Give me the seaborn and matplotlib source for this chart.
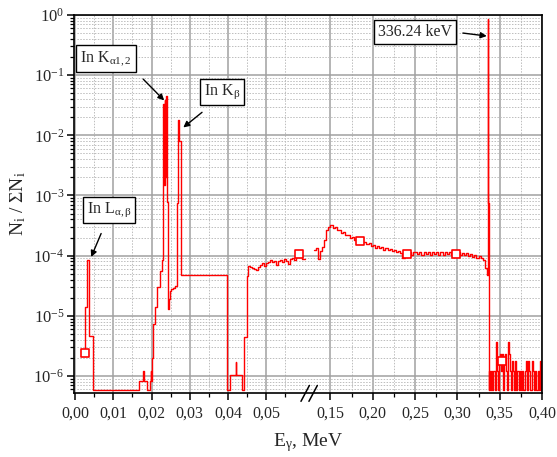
import numpy as np
import pandas as pd
import matplotlib
matplotlib.use("Agg")
import matplotlib.pyplot as plt
from matplotlib.ticker import FixedLocator, FuncFormatter, LogLocator, LogFormatterMathtext, NullFormatter
import seaborn as sns

# ---------------- data (E in MeV, N_i / sum N_i) ----------------
FLOOR = 5.85e-7

# low-energy part: In L, In K-alpha, In K-beta lines
left_x = [0.0026, 0.0027, 0.0031, 0.0035, 0.0037, 0.0046, 0.0166, 0.0178, 0.0179,
          0.0188, 0.0196, 0.0198, 0.0199, 0.0202, 0.0205, 0.0209, 0.0215, 0.0222,
          0.0227, 0.0229, 0.0231, 0.0233, 0.0234, 0.0236, 0.0237, 0.0240, 0.0243,
          0.0245, 0.0247, 0.0250, 0.0257, 0.0262, 0.0266, 0.0270, 0.0273, 0.0277,
          0.0397, 0.0406, 0.0420, 0.0421, 0.0436, 0.0443, 0.0449]
left_y = [2.4e-6, 1.38e-5, 8.3e-5, 5.6e-5, 4.6e-6, FLOOR, 8.3e-7, 1.2e-6, 8.3e-7,
          FLOOR, 8.3e-7, 1.2e-6, 8.3e-7, 2.0e-6, 7.4e-6, 1.4e-5, 3.0e-5, 5.6e-5,
          8.3e-5, 1.43e-3, 3.3e-2, 1.5e-3, 3.9e-2, 2.0e-3, 4.5e-2, 7.7e-4, 1.3e-5,
          1.9e-5, 2.6e-5, 2.8e-5, 2.9e-5, 3.1e-5, 7.4e-4, 1.78e-2, 8.0e-3, 4.8e-5,
          FLOOR, 1.05e-6, 1.7e-6, 1.05e-6, FLOOR, 4.4e-6, 4.6e-5]

# continuum 0.045 - 0.060 MeV (values in 1e-5)
cont1_x = [0.0453, 0.0458, 0.0463, 0.0469, 0.0474, 0.0479, 0.0484, 0.0490, 0.0495,
           0.0500, 0.0505, 0.0510, 0.0516, 0.0521, 0.0526, 0.0531, 0.0537, 0.0542,
           0.0547, 0.0552, 0.0558, 0.0563, 0.0568, 0.0573, 0.0579, 0.0584, 0.0589,
           0.0594, 0.0600, 0.0602]
cont1_y = [6.8, 6.4, 6.2, 6.0, 5.8, 6.4, 7.1, 7.6, 6.8, 7.5, 7.9, 8.3, 7.8, 8.2, 6.9,
           8.1, 8.6, 7.7, 8.7, 8.1, 7.2, 8.8, 9.1, 8.4, 9.4, 9.9, 10.2, 8.9, 8.7, 8.7]

# continuum 0.130 - 0.335 MeV (values in 1e-4)
cont2_x = [0.1300, 0.1325, 0.1350, 0.1375, 0.1400, 0.1425, 0.1450, 0.1475, 0.1500,
           0.1525, 0.1550, 0.1575, 0.1600, 0.1625, 0.1650, 0.1675, 0.1700, 0.1725,
           0.1750, 0.1775, 0.1800, 0.1825, 0.1850, 0.1875, 0.1900, 0.1925, 0.1950,
           0.1975, 0.2000, 0.2025, 0.2050, 0.2075, 0.2100, 0.2125, 0.2150, 0.2175,
           0.2200, 0.2225, 0.2250, 0.2275, 0.2300, 0.2325, 0.2350, 0.2375, 0.2400,
           0.2425, 0.2450, 0.2475, 0.2500, 0.2525, 0.2550, 0.2575, 0.2600, 0.2625,
           0.2650, 0.2675, 0.2700, 0.2725, 0.2750, 0.2775, 0.2800, 0.2825, 0.2850,
           0.2875, 0.2900, 0.2925, 0.2950, 0.2975, 0.3000, 0.3025, 0.3050, 0.3075,
           0.3100, 0.3125, 0.3150, 0.3175, 0.3200, 0.3225, 0.3250, 0.3275, 0.3300,
           0.3325, 0.3345]
cont2_y = [1.25, 1.32, 0.88, 1.20, 1.38, 1.85, 2.65, 3.00, 3.28, 2.90, 3.00, 2.70,
           2.70, 2.42, 2.48, 2.22, 2.20, 1.98, 2.02, 1.84, 1.90, 1.74, 1.84, 1.66,
           1.70, 1.56, 1.60, 1.44, 1.50, 1.36, 1.44, 1.32, 1.38, 1.26, 1.34, 1.22,
           1.30, 1.18, 1.24, 1.16, 1.20, 1.10, 0.92, 1.16, 1.06, 1.16, 1.04, 1.15,
           1.17, 1.05, 1.15, 1.04, 1.17, 1.07, 1.15, 1.03, 1.14, 1.06, 1.16, 1.02,
           1.13, 1.04, 1.15, 1.05, 1.14, 1.03, 1.13, 1.05, 1.15, 1.03, 1.12, 1.01,
           1.09, 0.98, 1.05, 0.95, 1.02, 0.93, 0.98, 0.90, 0.84, 0.62, 0.48]

# 336.24 keV photopeak
peak_x = [0.3356, 0.3364, 0.3370]
peak_y = [0.85, 7.4e-4, FLOOR]

# tail above the photopeak (values in 1e-6)
tail_x = [0.3372, 0.3384, 0.3396, 0.3408, 0.3420, 0.3432, 0.3444, 0.3456, 0.3468,
          0.3480, 0.3492, 0.3504, 0.3516, 0.3528, 0.3540, 0.3552, 0.3564, 0.3576,
          0.3588, 0.3600, 0.3612, 0.3624, 0.3636, 0.3648, 0.3660, 0.3672, 0.3684,
          0.3696, 0.3708, 0.3720, 0.3732, 0.3744, 0.3756, 0.3768, 0.3780, 0.3792,
          0.3804, 0.3816, 0.3828, 0.3840, 0.3852, 0.3864, 0.3876, 0.3888, 0.3900,
          0.3912, 0.3924, 0.3936, 0.3948, 0.3960, 0.3972, 0.3984, 0.3996]
tail_y = [1.2, 0.585, 1.2, 0.585, 1.2, 1.2, 0.585, 3.6, 1.2, 0.585, 1.8, 2.3, 1.2,
          2.3, 0.585, 1.8, 2.3, 1.2, 0.585, 3.6, 2.3, 1.2, 0.585, 1.8, 1.2, 0.585,
          1.8, 0.585, 1.2, 1.2, 0.585, 1.2, 0.585, 1.2, 0.585, 0.585, 1.2, 1.8,
          0.585, 1.8, 1.2, 0.585, 1.8, 1.2, 0.585, 1.2, 0.585, 0.585, 1.2, 0.585,
          1.8, 0.585, 1.8]

# open square markers on the curve
mark_x = [0.0026, 0.0586, 0.1853, 0.2409, 0.2982, 0.3532]
mark_y = [2.4e-6, 1.05e-4, 1.72e-4, 1.07e-4, 1.07e-4, 1.8e-6]

xticks_major = [0.00, 0.01, 0.02, 0.03, 0.04, 0.05, 0.15, 0.20, 0.25, 0.30, 0.35, 0.40]
xticks_minor = [0.005, 0.015, 0.025, 0.035, 0.045, 0.055,
                0.175, 0.225, 0.275, 0.325, 0.375]
yticks_major = [1e-6, 1e-5, 1e-4, 1e-3, 1e-2, 1e-1, 1e0]

# ---------------- frames ----------------
seg_left = pd.DataFrame({
    "E": left_x + cont1_x,
    "N": left_y + [v * 1e-5 for v in cont1_y],
})
seg_right = pd.DataFrame({
    "E": cont2_x + peak_x + tail_x,
    "N": [v * 1e-4 for v in cont2_y] + peak_y + [v * 1e-6 for v in tail_y],
})
marks = pd.DataFrame({"E": mark_x, "N": mark_y})

# ---------------- style ----------------
sns.set_theme(style="white")
plt.rcParams["font.family"] = ["Liberation Serif", "DejaVu Serif"]
plt.rcParams["mathtext.fontset"] = "custom"
plt.rcParams["mathtext.rm"] = "Liberation Serif"
plt.rcParams["mathtext.it"] = "Liberation Serif:italic"
plt.rcParams["mathtext.bf"] = "Liberation Serif:bold"

fig = plt.figure(figsize=(5.57, 4.57), dpi=100)
ax = fig.add_axes([74 / 557, 1 - 393 / 457, 468 / 557, 378 / 457])

RED = "#ff0000"
for seg in (seg_left, seg_right):
    sns.lineplot(data=seg, x="E", y="N", estimator=None, sort=False,
                 drawstyle="steps-post", color=RED, lw=1.0, ax=ax)
sns.scatterplot(data=marks, x="E", y="N", marker="s", s=38, facecolor="white",
                edgecolor=RED, linewidth=1.2, ax=ax, zorder=5)

# ---------------- broken x scale ----------------
BR_LO, BR_HI, R, EPS = 0.061, 0.124, 0.2214, 1e-3
U1 = BR_LO
U2 = BR_LO + (BR_HI - BR_LO) * EPS


def fwd(x):
    x = np.asarray(x, dtype=float)
    return np.where(x <= BR_LO, x,
                    np.where(x >= BR_HI, U2 + (x - BR_HI) * R, U1 + (x - BR_LO) * EPS))


def inv(u):
    u = np.asarray(u, dtype=float)
    return np.where(u <= U1, u,
                    np.where(u >= U2, BR_HI + (u - U2) / R, BR_LO + (u - U1) / EPS))


ax.set_xscale("function", functions=(fwd, inv))
ax.set_yscale("log")
ax.set_xlim(-0.0003, 0.40)
ax.set_ylim(5.2e-7, 1.0)

ax.xaxis.set_major_locator(FixedLocator(xticks_major))
ax.xaxis.set_minor_locator(FixedLocator(xticks_minor))
ax.xaxis.set_major_formatter(FuncFormatter(lambda v, p: f"{v:.2f}".replace(".", ",")))
ax.xaxis.set_minor_formatter(NullFormatter())
ax.yaxis.set_major_locator(FixedLocator(yticks_major))
ax.yaxis.set_minor_locator(LogLocator(base=10, subs=np.arange(2, 10), numticks=20))
ax.yaxis.set_major_formatter(LogFormatterMathtext())
ax.yaxis.set_minor_formatter(NullFormatter())

ax.grid(which="major", color="#a0a0a0", lw=1.1, ls="-")
ax.grid(which="minor", color="#bdbdbd", lw=0.7, ls=(0, (1.5, 1.5)))
ax.set_axisbelow(True)

for s in ax.spines.values():
    s.set_color("black")
    s.set_linewidth(1.2)
ax.tick_params(which="major", direction="out", length=5, width=1.1, color="black",
               labelsize=11.5, pad=2, bottom=True, left=True, top=False, right=False)
ax.tick_params(which="minor", direction="out", length=3, width=0.9, color="black",
               bottom=True, left=True, top=False, right=False)
ax.tick_params(axis="x", which="major", pad=4)
ax.tick_params(axis="y", which="major", labelsize=12)

ax.set_xlabel(r"E$_{\mathrm{γ}}$, MeV", fontsize=14, labelpad=7)
ax.set_ylabel(r"N$_{\mathrm{i}}$ / ΣN$_{\mathrm{i}}$", fontsize=14, labelpad=4)

# axis break marks
for dx in (0.0, 0.017):
    ax.plot([0.485 + dx, 0.503 + dx], [-0.022, 0.020], transform=ax.transAxes,
            color="black", lw=1.1, clip_on=False, zorder=6)

# ---------------- annotations ----------------
box = dict(boxstyle="square,pad=0.25", fc="white", ec="black", lw=1.0)
arrow = dict(arrowstyle="-|>", color="black", lw=1.0, mutation_scale=9,
             shrinkA=0, shrinkB=0)

ax.text(0.069, 0.884, r"In K$_{\mathrm{α1,2}}$", transform=ax.transAxes, fontsize=11.5,
        ha="center", va="center", bbox=box, zorder=7)
ax.annotate("", xy=(0.0233, 0.038), xytext=(0.0178, 0.086), arrowprops=arrow, zorder=7)

ax.text(0.316, 0.796, r"In K$_{\mathrm{β}}$", transform=ax.transAxes, fontsize=11.5,
        ha="center", va="center", bbox=box, zorder=7)
ax.annotate("", xy=(0.0283, 0.0135), xytext=(0.0332, 0.0241), arrowprops=arrow, zorder=7)

ax.text(0.0748, 0.484, r"In L$_{\mathrm{α,β}}$", transform=ax.transAxes, fontsize=11.5,
        ha="center", va="center", bbox=box, zorder=7)
ax.annotate("", xy=(0.0042, 9.5e-5), xytext=(0.0068, 2.33e-4), arrowprops=arrow, zorder=7)

ax.text(0.7286, 0.955, "336.24 keV", transform=ax.transAxes, fontsize=11.5,
        ha="center", va="center", bbox=box, zorder=7)
ax.annotate("", xy=(0.3347, 0.447), xytext=(0.3065, 0.501), arrowprops=arrow, zorder=7)

fig.savefig("out.png", dpi=100)
